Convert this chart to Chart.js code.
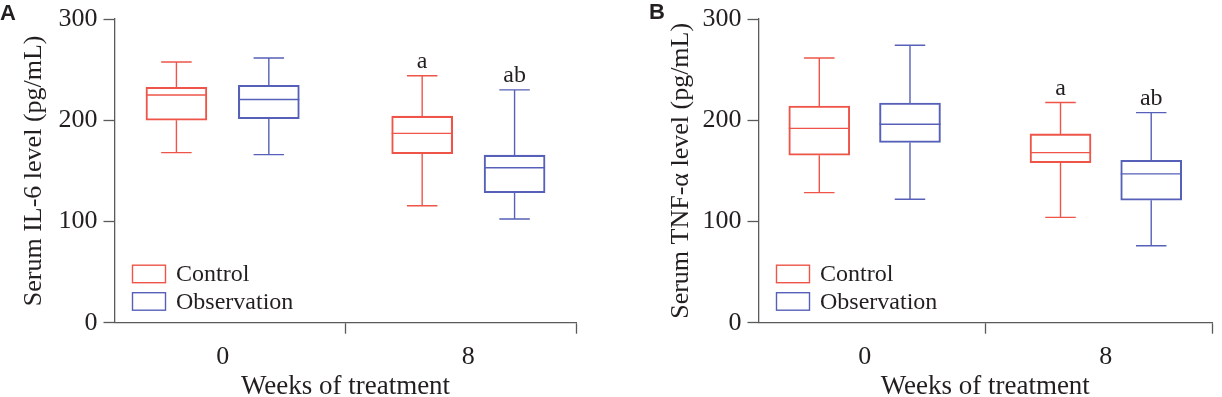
<!DOCTYPE html>
<html>
<head>
<meta charset="utf-8">
<script src="https://cdn.jsdelivr.net/npm/chart.js@4.4.1/dist/chart.umd.min.js"></script>
<style>
body{margin:0;background:#fff;width:1222px;height:397px;overflow:hidden;position:relative}
#panelA{position:absolute;left:0;top:0}
#panelB{position:absolute;left:644px;top:0}
</style>
</head>
<body>
<canvas id="panelA" width="644" height="397"></canvas>
<canvas id="panelB" width="578" height="397"></canvas>
<script>
var weeks = ['0', '8'];
var weekPos = [0, 1];
var groups = ['Control', 'Observation'];
var yTicks = [0, 100, 200, 300];
// [min, Q1, median, Q3, max] per week
var il6Control = [[168, 200, 225, 232.5, 257.5], [115.5, 167, 187, 204, 244]];
var il6Observation = [[166, 201.5, 220.5, 234.5, 261.5], [102.5, 128.5, 153, 165.5, 230]];
var tnfControl = [[128.5, 165.5, 192, 214, 261.5], [104, 158, 168, 186.5, 217.5]];
var tnfObservation = [[122, 178, 196, 217, 274], [76, 121, 147, 160.5, 207.5]];
var marksControl = ['', 'a'];
var marksObservation = ['', 'ab'];

var colControl = '#ee5548';
var colObs = '#5660b8';
var axisCol = '#5a5a5a';
var textCol = '#231f20';
var serif = '"Liberation Serif", "Times New Roman", serif';

function boxData(stats, shift, marks) {
  var out = [];
  for (var i = 0; i < stats.length; i++) {
    out.push({x: weekPos[i] + shift, y: [stats[i][1], stats[i][3]], stats: stats[i], mark: marks[i]});
  }
  return out;
}

// whiskers, median and significance letters
var whiskers = {
  id: 'whiskers',
  afterDatasetsDraw: function (chart) {
    var ctx = chart.ctx, ys = chart.scales.y;
    chart.data.datasets.forEach(function (ds, d) {
      var meta = chart.getDatasetMeta(d);
      meta.data.forEach(function (bar, i) {
        var p = ds.data[i];
        var s = p.stats;
        var half = bar.width / 2, cap = bar.width / 4;
        var pMin = ys.getPixelForValue(s[0]), pQ1 = ys.getPixelForValue(s[1]);
        var pMed = ys.getPixelForValue(s[2]), pQ3 = ys.getPixelForValue(s[3]);
        var pMax = ys.getPixelForValue(s[4]);
        ctx.save();
        ctx.strokeStyle = ds.borderColor;
        ctx.lineWidth = ds.borderWidth;
        ctx.beginPath();
        ctx.moveTo(bar.x - half, pMed); ctx.lineTo(bar.x + half, pMed);
        ctx.moveTo(bar.x, pQ3); ctx.lineTo(bar.x, pMax);
        ctx.moveTo(bar.x, pQ1); ctx.lineTo(bar.x, pMin);
        ctx.moveTo(bar.x - cap, pMax); ctx.lineTo(bar.x + cap, pMax);
        ctx.moveTo(bar.x - cap, pMin); ctx.lineTo(bar.x + cap, pMin);
        ctx.stroke();
        if (p.mark) {
          ctx.fillStyle = textCol;
          ctx.font = '24px ' + serif;
          ctx.textAlign = 'center';
          ctx.textBaseline = 'alphabetic';
          ctx.fillText(p.mark, bar.x, pMax - 7.5);
        }
        ctx.restore();
      });
    });
  }
};

// legend inside the plot, bottom left, plus panel letter
var boxLegend = {
  id: 'boxLegend',
  afterDraw: function (chart, args, opts) {
    var ctx = chart.ctx, area = chart.chartArea;
    var left = area.left + 18;
    var tops = [area.bottom - 57.5, area.bottom - 30];
    ctx.save();
    chart.data.datasets.forEach(function (ds, d) {
      ctx.strokeStyle = ds.borderColor;
      ctx.lineWidth = 1.4;
      ctx.strokeRect(left, tops[d], 33, 17.5);
      ctx.fillStyle = textCol;
      ctx.font = '24px ' + serif;
      ctx.textAlign = 'left';
      ctx.textBaseline = 'middle';
      ctx.fillText(ds.label, left + 43.5, tops[d] + 10);
    });
    ctx.font = 'bold 22px "Liberation Sans", Arial, sans-serif';
    ctx.textBaseline = 'alphabetic';
    ctx.fillText(opts.tag, opts.tagX, opts.tagY);
    ctx.restore();
  }
};

function makePanel(id, yTitle, control, observation, tag, tagX, tagY, titlePad) {
  var xTickVals = [0, 0.5, 1, 1.44];
  return new Chart(document.getElementById(id), {
    type: 'bar',
    data: {
      datasets: [
        {label: groups[0], data: boxData(control, -0.188, marksControl), borderColor: colControl,
          backgroundColor: 'rgba(0,0,0,0)', borderWidth: 1.4, borderSkipped: false, grouped: false, barThickness: 61},
        {label: groups[1], data: boxData(observation, 0.188, marksObservation), borderColor: colObs,
          backgroundColor: 'rgba(0,0,0,0)', borderWidth: 1.4, borderSkipped: false, grouped: false, barThickness: 61}
      ]
    },
    options: {
      responsive: false,
      animation: false,
      devicePixelRatio: 1,
      layout: {padding: {left: 0, top: 14.7, right: id == 'panelA' ? 67.5 : 1.5, bottom: 0}},
      plugins: {
        legend: {display: false},
        tooltip: {enabled: false},
        boxLegend: {tag: tag, tagX: tagX, tagY: tagY}
      },
      scales: {
        x: {
          type: 'linear',
          min: -0.44,
          max: 1.44,
          offset: false,
          afterBuildTicks: function (s) {
            s.ticks = xTickVals.map(function (v) { return {value: v}; });
          },
          afterFit: function (s) { s.height = 74.3; },
          border: {color: axisCol, width: 1.3},
          grid: {
            offset: false,
            drawOnChartArea: false,
            tickLength: 11,
            tickWidth: 1.3,
            tickColor: function (c) {
              if (c.tick && weekPos.indexOf(c.tick.value) >= 0) return 'rgba(0,0,0,0)';
              return axisCol;
            }
          },
          ticks: {
            autoSkip: false,
            maxRotation: 0,
            padding: 10,
            color: textCol,
            font: {family: serif, size: 26, lineHeight: 1},
            callback: function (v) {
              var k = weekPos.indexOf(v);
              return k >= 0 ? weeks[k] : '';
            }
          },
          title: {
            display: true,
            text: 'Weeks of treatment',
            color: textCol,
            font: {family: serif, size: 27, lineHeight: 0.72},
            padding: 0
          }
        },
        y: {
          min: 0,
          max: 300,
          afterBuildTicks: function (s) {
            s.ticks = yTicks.map(function (v) { return {value: v}; });
          },
          afterFit: function (s) { s.width = 114.5; },
          border: {color: axisCol, width: 1.3},
          grid: {drawOnChartArea: false, tickLength: 11, tickWidth: 1.3, tickColor: axisCol},
          ticks: {
            padding: 6,
            color: textCol,
            font: {family: serif, size: 26, lineHeight: 1}
          },
          title: {
            display: true,
            text: yTitle,
            color: textCol,
            font: {family: serif, size: 26, lineHeight: 1},
            padding: {top: titlePad, bottom: 0}
          }
        }
      }
    },
    plugins: [whiskers, boxLegend]
  });
}

makePanel('panelA', 'Serum IL-6 level (pg/mL)', il6Control, il6Observation, 'A', 0, 20, 21);
makePanel('panelB', 'Serum TNF-α level (pg/mL)', tnfControl, tnfObservation, 'B', 5, 18.5, 24);
</script>
</body>
</html>
